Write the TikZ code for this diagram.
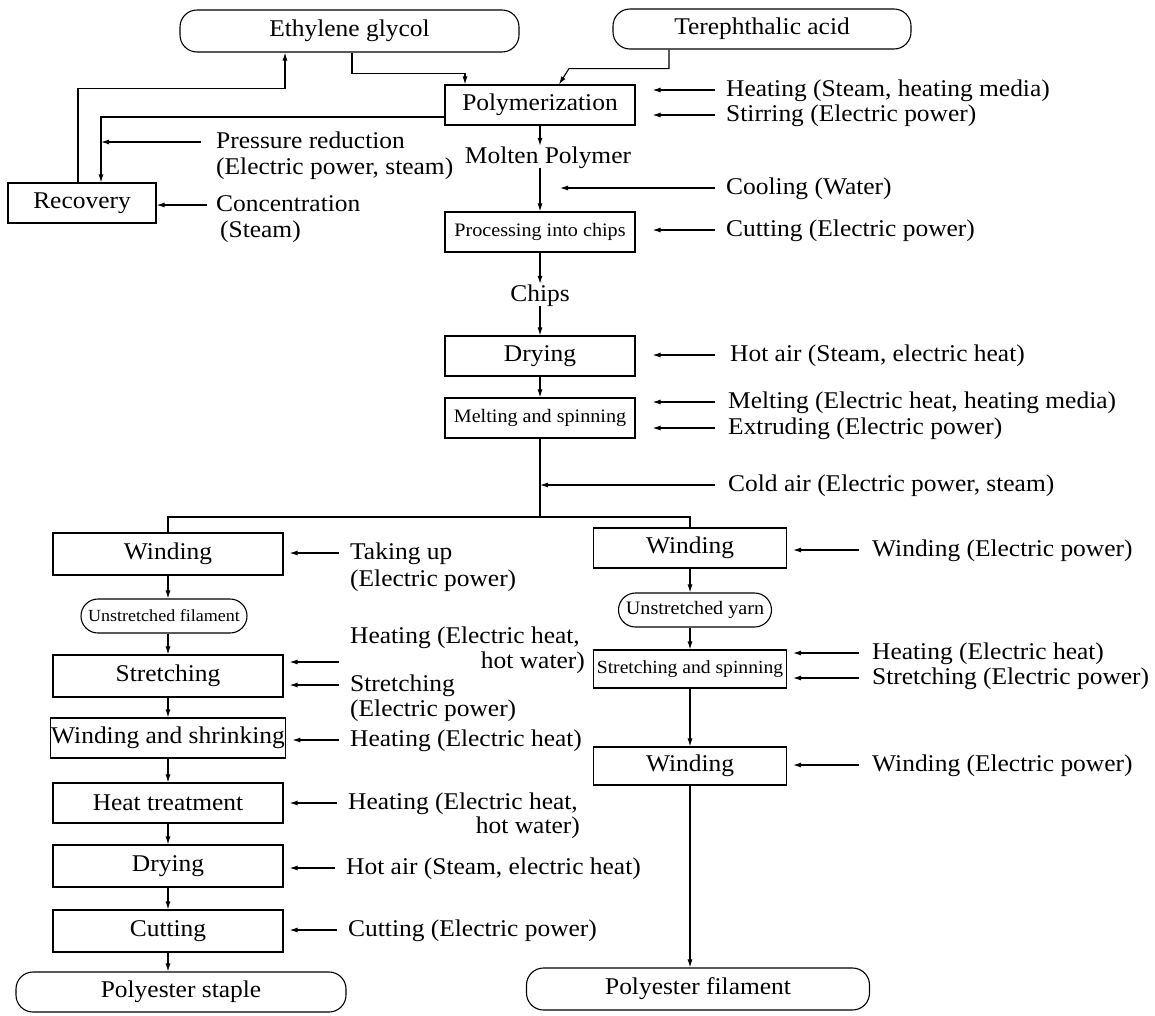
\documentclass[tikz,border=0pt]{standalone}
\usepackage{fontspec}
\setmainfont{Liberation Serif}[FakeStretch=1.06]
\usetikzlibrary{arrows.meta,calc}
\newcommand\bigtxt{\fontsize{24}{25}\selectfont}
\newcommand\smalltxt{\fontsize{19}{20}\selectfont}
\newcommand\tinytxt{\fontsize{17}{18}\selectfont}
\begin{document}
\begin{tikzpicture}[x=1pt,y=-1pt,
  wire/.style={line width=1.1pt},
  flow/.style={wire,-{Latex[length=8pt,width=5pt]}},
  feedmain/.style={flow,shorten >=17pt},
  feedside/.style={flow,shorten >=6pt},
  box/.style={draw,wire,minimum height=40pt,inner sep=1pt,font=\bigtxt},
  term/.style={draw,wire,rounded corners=17pt,minimum height=40pt,inner sep=1pt,font=\bigtxt},
  lab/.style={anchor=west,inner sep=0pt,font=\bigtxt,text height=17pt,text depth=5pt},
  labr/.style={lab,anchor=east},
  midlab/.style={lab,anchor=center}]
\useasboundingbox (0,0) rectangle (1155,1015);

% raw materials
\node[term,minimum width=339pt,minimum height=42pt] (eg) at (349.5,31) {Ethylene glycol};
\node[term,minimum width=298pt] (ta) at (762,29) {Terephthalic acid};

% main line
\node[box,minimum width=190pt] (poly) at (540,105) {Polymerization};
\node[midlab] (mp) at (548,157) {Molten Polymer};
\node[box,minimum width=190pt,font=\smalltxt] (proc) at (540,232) {Processing into chips};
\node[midlab] (chips) at (540,295) {Chips};
\node[box,minimum width=190pt] (dry) at (540,356) {Drying};
\node[box,minimum width=190pt,font=\smalltxt] (melt) at (540,418) {Melting and spinning};
\coordinate (split) at (540,517);

% recovery
\node[box,minimum width=148pt] (rec) at (82,203) {Recovery};
\coordinate (recin) at ([xshift=19pt]rec.north);

% staple line
\node[box,minimum width=230pt,minimum height=42pt] (lw) at (168,554) {Winding};
\node[term,minimum width=166pt,minimum height=34pt,font=\tinytxt] (uf) at (164,616) {Unstretched filament};
\node[box,minimum width=230pt,minimum height=42pt] (st) at (168,676) {Stretching};
\node[box,minimum width=230pt] (ws) at (168,738) {Winding and shrinking};
\node[box,minimum width=230pt] (ht) at (168,803) {Heat treatment};
\node[box,minimum width=230pt,minimum height=42pt] (dr) at (168,866) {Drying};
\node[box,minimum width=230pt,minimum height=42pt] (cu) at (168,931) {Cutting};
\node[term,minimum width=330pt] (ps) at (181,992) {Polyester staple};

% filament line
\node[box,minimum width=193pt] (rw) at (690,548) {Winding};
\node[term,minimum width=153pt,minimum height=34pt,font=\smalltxt] (uy) at (695,610) {Unstretched yarn};
\node[box,minimum width=193pt,minimum height=38pt,font=\fontsize{18.5}{20}\selectfont] (ss) at (690,669) {Stretching and spinning};
\node[box,minimum width=193pt,minimum height=38pt] (rw2) at (690,766) {Winding};
\node[term,minimum width=343pt,minimum height=42pt] (pf) at (698,989) {Polyester filament};

% utility labels
\node[lab] (pr1) at (216,142) {Pressure reduction};
\node[lab] (pr2) at (216,168) {(Electric power, steam)};
\node[lab] (cc1) at (216,205) {Concentration};
\node[lab] (cc2) at (220,231) {(Steam)};
\node[lab] (hA) at (726,90) {Heating (Steam, heating media)};
\node[lab] (sA) at (726,115) {Stirring (Electric power)};
\node[lab] (cA) at (726,188) {Cooling (Water)};
\node[lab] (kA) at (726,230) {Cutting (Electric power)};
\node[lab] (dA) at (730,355) {Hot air (Steam, electric heat)};
\node[lab] (mA) at (728,402) {Melting (Electric heat, heating media)};
\node[lab] (eA) at (728,428) {Extruding (Electric power)};
\node[lab] (oA) at (728,485) {Cold air (Electric power, steam)};

\node[lab] (tk1) at (350,553) {Taking up};
\node[lab] (tk2) at (350,580) {(Electric power)};
\node[lab] (sh1) at (350,637) {Heating (Electric heat,};
\node[labr] (sh2) at (585,662) {hot water)};
\node[lab] (sp1) at (350,685) {Stretching};
\node[lab] (sp2) at (350,710) {(Electric power)};
\node[lab] (wh) at (350,740) {Heating (Electric heat)};
\node[lab] (hh1) at (348,803) {Heating (Electric heat,};
\node[labr] (hh2) at (580,827) {hot water)};
\node[lab] (dh) at (346,868) {Hot air (Steam, electric heat)};
\node[lab] (ch) at (348,930) {Cutting (Electric power)};

\node[lab] (rwA) at (872,550) {Winding (Electric power)};
\node[lab] (ssA) at (872,653) {Heating (Electric heat)};
\node[lab] (ssB) at (872,678) {Stretching (Electric power)};
\node[lab] (rwB) at (872,765) {Winding (Electric power)};

% material flow
\draw[flow] ([xshift=2.5pt]eg.south) -- ++(0,21) -| ([xshift=-75pt]poly.north);
\draw[flow] ([xshift=-93pt]ta.south) -- ++(0,19) -- ++(-100,0) -- ([xshift=19pt]poly.north);
\draw[flow] ([xshift=-4pt]rec.north) -- ++(0,-94) -| ([xshift=-64.5pt]eg.south);
\draw[flow] ([yshift=-12pt]poly.west) -| (recin);
\draw[flow] (poly.south) -- (poly.south |- mp.north);
\draw[flow] (poly.south |- mp.south) -- (proc.north);
\draw[flow] (proc.south) -- (proc.south |- chips.north);
\draw[flow] (proc.south |- chips.south) -- (dry.north);
\draw[flow] (dry.south) -- (melt.north);
\draw[wire] (melt.south) -- (split);
\draw[wire] (lw.north) |- (split) -| (rw.north);

\draw[flow] (lw.south) -- (lw.south |- uf.north);
\draw[flow] (lw.south |- uf.south) -- (st.north);
\draw[flow] (st.south) -- (ws.north);
\draw[flow] (ws.south) -- (ht.north);
\draw[flow] (ht.south) -- (dr.north);
\draw[flow] (dr.south) -- (cu.north);
\draw[flow] (cu.south) -- (cu.south |- ps.north);

\draw[flow] (rw.south) -- (rw.south |- uy.north);
\draw[flow] (rw.south |- uy.south) -- (ss.north);
\draw[flow] (ss.south) -- (rw2.north);
\draw[flow] (rw2.south) -- (rw2.south |- pf.north);

% utility feeds
\draw[flow] ($(pr1.west)+(-15,0)$) -- (pr1.west -| recin);
\draw[flow] ($(cc1.west)+(-9,0)$) -- (cc1.west -| rec.east);
\draw[feedmain] ($(hA.west)+(-11,0)$) -- (hA.west -| poly.east);
\draw[feedmain] ($(sA.west)+(-11,0)$) -- (sA.west -| poly.east);
\draw[flow,shorten >=12pt] ($(cA.west)+(-11,0)$) -- (cA.west -| mp.south);
\draw[feedmain] ($(kA.west)+(-11,0)$) -- (kA.west -| proc.east);
\draw[feedmain] ($(dA.west)+(-15,0)$) -- (dA.west -| dry.east);
\draw[feedmain] ($(mA.west)+(-13,0)$) -- (mA.west -| melt.east);
\draw[feedmain] ($(eA.west)+(-13,0)$) -- (eA.west -| melt.east);
\draw[flow] ($(oA.west)+(-13,0)$) -- (oA.west -| melt.south);

\draw[feedside] ($(tk1.west)+(-11,0)$) -- (tk1.west -| lw.east);
\draw[feedside] ($(sh1.west |- sh2.east)+(-11,0)$) -- (sh2.east -| st.east);
\draw[feedside] ($(sp1.west)+(-11,0)$) -- (sp1.west -| st.east);
\draw[feedside] ($(wh.west)+(-11,0)$) -- (wh.west -| ws.east);
\draw[feedside] ($(hh1.west)+(-11,0)$) -- (hh1.west -| ht.east);
\draw[feedside] ($(dh.west)+(-11,0)$) -- (dh.west -| dr.east);
\draw[feedside] ($(ch.west)+(-11,0)$) -- (ch.west -| cu.east);

\draw[feedside] ($(rwA.west)+(-13,0)$) -- (rwA.west -| rw.east);
\draw[feedside] ($(ssA.west)+(-13,0)$) -- (ssA.west -| ss.east);
\draw[feedside] ($(ssB.west)+(-13,0)$) -- (ssB.west -| ss.east);
\draw[feedside] ($(rwB.west)+(-13,0)$) -- (rwB.west -| rw2.east);
\end{tikzpicture}
\end{document}
